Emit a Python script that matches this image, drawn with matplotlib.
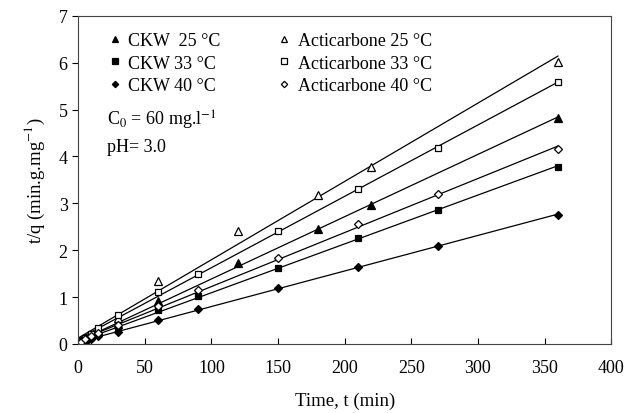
import matplotlib.pyplot as plt
import numpy as np

plt.rcParams['font.family'] = ['Liberation Serif', 'DejaVu Serif']
plt.rcParams['mathtext.fontset'] = 'stix'

t_a = [2, 5, 10, 15, 30, 60, 120, 180, 220, 360]
t_b = [2, 5, 10, 15, 30, 60, 90, 150, 210, 270, 360]

ckw25 = [0.05, 0.10, 0.18, 0.25, 0.42, 0.92, 1.72, 2.45, 2.97, 4.82]
act25 = [0.07, 0.12, 0.22, 0.30, 0.55, 1.35, 2.40, 3.18, 3.78, 6.02]
ckw33 = [0.04, 0.08, 0.14, 0.20, 0.35, 0.72, 1.03, 1.62, 2.25, 2.86, 3.78]
act33 = [0.07, 0.12, 0.22, 0.33, 0.62, 1.10, 1.50, 2.42, 3.30, 4.18, 5.58]
ckw40 = [0.03, 0.06, 0.11, 0.16, 0.26, 0.50, 0.74, 1.20, 1.65, 2.08, 2.75]
act40 = [0.05, 0.10, 0.17, 0.23, 0.40, 0.80, 1.15, 1.83, 2.55, 3.20, 4.15]

series = [
    ('CKW  25 °C', t_a, ckw25, '^', 'black'),
    ('CKW 33 °C', t_b, ckw33, 's', 'black'),
    ('CKW 40 °C', t_b, ckw40, 'D', 'black'),
    ('Acticarbone 25 °C', t_a, act25, '^', 'white'),
    ('Acticarbone 33 °C', t_b, act33, 's', 'white'),
    ('Acticarbone 40 °C', t_b, act40, 'D', 'white'),
]

fig = plt.figure(figsize=(6.25, 4.14), dpi=100)
ax = fig.add_axes([0.125, 0.167, 0.853, 0.792])

handles = []
tt = np.array([0, 360])
for name, t, y, m, fc in series:
    k, b = np.polyfit(t, y, 1)
    ax.plot(tt, k * tt + b, color='black', lw=0.9)
    ms = {'^': 5.6, 's': 4.6, 'D': 3.8}[m]
    h, = ax.plot(t, y, ls='none', marker=m, ms=ms, mfc=fc, mec='black',
                 mew=0.9, label=name)
    handles.append(h)

ax.set_xlim(0, 400)
ax.set_ylim(0, 7)
ax.set_xticks(range(0, 401, 50))
ax.set_yticks(range(0, 8))
ax.tick_params(axis='x', direction='in', length=4, labelsize=13, pad=11)
ax.tick_params(axis='y', direction='out', length=4, labelsize=13)
for s in ax.spines.values():
    s.set_color('#444444')

ax.set_xlabel('Time, t (min)', fontsize=13.5, labelpad=11)
ax.set_ylabel('t/q (min.g.mg$^{-1}$)', fontsize=13.5, labelpad=8)

kw = dict(loc='upper left', frameon=False, fontsize=13, handlelength=0.5,
          handletextpad=0.5, labelspacing=0.3, markerscale=0.85)
leg1 = ax.legend(handles=handles[:3], bbox_to_anchor=(0.03, 1.0), **kw)
ax.add_artist(leg1)
ax.legend(handles=handles[3:], bbox_to_anchor=(0.348, 1.0), **kw)

ax.text(0.055, 0.685, 'C$_0$ = 60 mg.l$^{-1}$', transform=ax.transAxes,
        fontsize=13, va='center')
ax.text(0.055, 0.603, 'pH= 3.0', transform=ax.transAxes,
        fontsize=13, va='center')

plt.savefig('out.png', dpi=100)
